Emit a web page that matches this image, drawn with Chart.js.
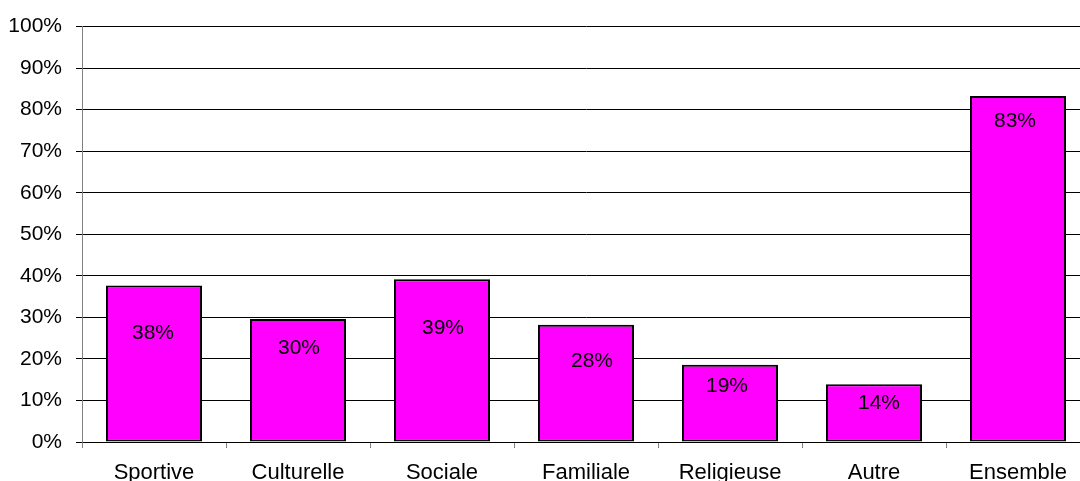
<!DOCTYPE html>
<html>
<head>
<meta charset="utf-8">
<script src="https://cdn.jsdelivr.net/npm/chart.js@4/dist/chart.umd.min.js"></script>
<style>
html,body{margin:0;padding:0;background:#fff;overflow:hidden;width:1080px;height:481px;}
#wrap{width:1092px;height:481px;}
</style>
</head>
<body>
<div id="wrap"><canvas id="c" width="1092" height="481"></canvas></div>
<script>
const categories = ['Sportive', 'Culturelle', 'Sociale', 'Familiale', 'Religieuse', 'Autre', 'Ensemble'];
const values = [37.7, 29.6, 39.2, 28.2, 18.6, 13.9, 83.3];
const valueLabels = ['38%', '30%', '39%', '28%', '19%', '14%', '83%'];
const yTicks = [0, 10, 20, 30, 40, 50, 60, 70, 80, 90, 100];

// label placement (pixel nudges relative to the bar top / centre), style only
const labelDy = [48, 29, 49, 36, 21, 19, 25];
const labelDx = [-1, 1, 1, 6, -3, 5, -3];

const FONT = '"Liberation Sans", Arial, sans-serif';

const labelPlugin = {
  id: 'valueLabels',
  afterDatasetsDraw(chart) {
    const ctx = chart.ctx;
    const meta = chart.getDatasetMeta(0);
    ctx.save();
    ctx.font = '21px ' + FONT;
    ctx.fillStyle = '#000';
    ctx.textAlign = 'center';
    ctx.textBaseline = 'middle';
    meta.data.forEach((bar, i) => {
      ctx.fillText(valueLabels[i], bar.x + labelDx[i], bar.y + labelDy[i]);
    });
    ctx.restore();
  }
};

new Chart(document.getElementById('c'), {
  type: 'bar',
  data: {
    labels: categories,
    datasets: [{
      data: values,
      backgroundColor: '#FF00FF',
      borderColor: '#000000',
      borderWidth: 2,
      borderSkipped: false,
      categoryPercentage: 1.0,
      barPercentage: 0.667
    }]
  },
  options: {
    responsive: false,
    devicePixelRatio: 1,
    animation: false,
    layout: { padding: { top: 22, right: 2, left: 0, bottom: 0 } },
    plugins: {
      legend: { display: false },
      tooltip: { enabled: false }
    },
    scales: {
      x: {
        grid: {
          display: true,
          drawOnChartArea: false,
          drawTicks: true,
          tickLength: 6,
          color: '#808080',
          offset: true
        },
        border: { display: true, color: '#000', width: 1 },
        ticks: {
          color: '#000',
          font: { family: FONT, size: 22 },
          padding: 12,
          maxRotation: 0,
          autoSkip: false
        },
        afterFit(scale) { scale.height = 39; }
      },
      y: {
        min: 0,
        max: 100,
        afterBuildTicks(scale) { scale.ticks = yTicks.map(v => ({ value: v })); },
        grid: {
          color: '#000',
          lineWidth: 1,
          drawTicks: true,
          tickLength: 6,
          tickColor: '#000'
        },
        border: { display: true, color: '#808080', width: 1 },
        ticks: {
          color: '#000',
          font: { family: FONT, size: 21 },
          padding: 14,
          callback: v => v + '%'
        },
        afterFit(scale) { scale.width = 82; }
      }
    }
  },
  plugins: [labelPlugin]
});
</script>
</body>
</html>
